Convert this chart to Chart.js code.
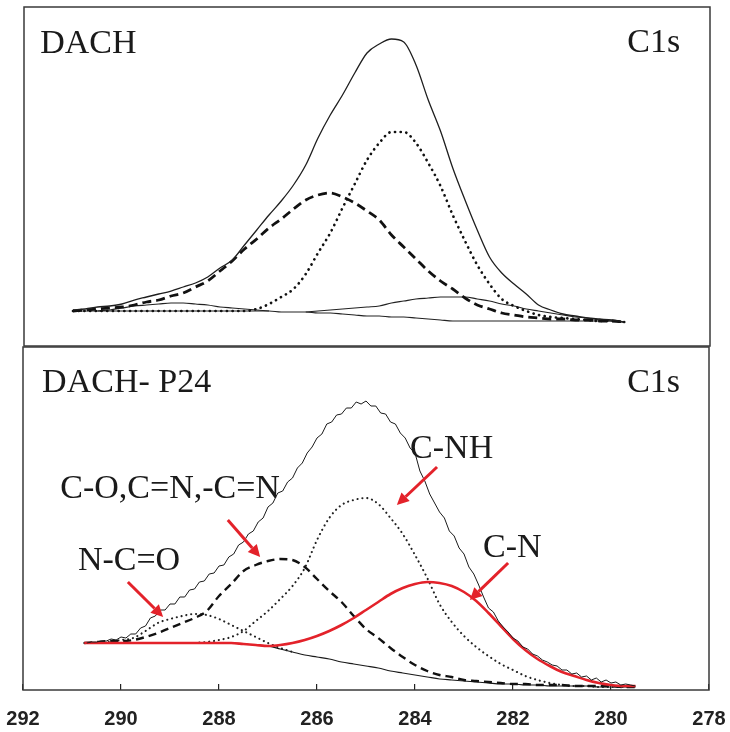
<!DOCTYPE html>
<html>
<head>
<meta charset="utf-8">
<script src="https://cdn.jsdelivr.net/npm/chart.js@4.4.1/dist/chart.umd.min.js"></script>
<style>
  body { margin: 0; background: #fff; }
  #wrap { position: relative; width: 730px; height: 732px; }
  #wrap canvas { position: absolute; left: 0; top: 0; }
</style>
</head>
<body>
<div id="wrap">
  <canvas id="topChart" width="730" height="732"></canvas>
  <canvas id="bottomChart" width="730" height="732"></canvas>
</div>
<script>
// -----------------------------
// DATA  (binding energy in eV, intensity in arbitrary units)
// -----------------------------
const xTicks = [292, 290, 288, 286, 284, 282, 280, 278];

// top panel : DACH
const topEnergy = [291.00, 290.75, 290.50, 290.25, 290.00, 289.75, 289.50, 289.25, 289.00, 288.75,
  288.50, 288.25, 288.00, 287.75, 287.50, 287.25, 287.00, 286.75, 286.50, 286.25,
  286.00, 285.75, 285.50, 285.25, 285.00, 284.75, 284.50, 284.25, 284.00, 283.75,
  283.50, 283.25, 283.00, 282.75, 282.50, 282.25, 282.00, 281.75, 281.50, 281.25,
  281.00, 280.75, 280.50, 280.25, 280.00, 279.75];
const topEnvelope = [35, 36, 38, 39, 41, 45, 48, 51, 54, 58, 62, 68, 77, 85, 100, 115, 130, 144, 160, 180,
  207, 230, 250, 272, 292, 301, 306, 303, 280, 245, 214, 177, 145, 115, 88, 72, 61, 51, 40, 35,
  31, 29, 27, 26, 25, 23];
const topDashed = [34, 35, 36, 37, 38, 40, 43, 45, 49, 52, 58, 64, 74, 84, 96, 106, 117, 126, 136, 145,
  150, 152, 148, 142, 134, 125, 110, 98, 86, 74, 64, 56, 47, 40, 36, 32, 30, 28, 27, 26,
  26, 25, 25, 24, 24, 23];
const topDotted = [34, 34, 34, 34, 34, 34, 34, 34, 34, 34, 34, 34, 34, 34, 34, 36, 41, 48, 56, 71,
  92, 112, 137, 161, 185, 202, 213, 213, 202, 182, 159, 130, 104, 80, 61, 46, 39, 34, 30, 28,
  27, 26, 25, 24, 24, 23];
const topSmallLow = [null, null, 34, 35, 37, 39, 40, 41, 42, 42, 41, 40, 38, 37, 36, 35, 34, null, null, null,
  null, null, null, null, null, null, null, null, null, null, null, null, null, null, null, null, null, null, null, null,
  null, null, null, null, null, null];
const topSmallHigh = [null, null, null, null, null, null, null, null, null, null, null, null, null, null, null, null, null, null, null, 33,
  34, 35, 36, 37, 38, 39, 42, 44, 46, 47, 48, 48, 48, 46, 44, 41, 39, 36, 34, 32,
  30, 28, 27, 25, 24, 23];
const topBackground = [34, 34, 34, 34, 34, 34, 34, 34, 34, 34, 34, 34, 34, 34, 34, 34, 34, 33, 33, 33,
  32, 32, 31, 30, 29, 29, 28, 28, 27, 26, 25, 24, 24, 24, 24, 24, 24, 24, 24, 24,
  24, 24, 24, 24, 24, 23];

// bottom panel : DACH- P24
const bottomEnergy = [290.75, 290.50, 290.25, 290.00, 289.75, 289.50, 289.25, 289.00, 288.75, 288.50,
  288.25, 288.00, 287.75, 287.50, 287.25, 287.00, 286.75, 286.50, 286.25, 286.00,
  285.75, 285.50, 285.25, 285.00, 284.75, 284.50, 284.25, 284.00, 283.75, 283.50,
  283.25, 283.00, 282.75, 282.50, 282.25, 282.00, 281.75, 281.50, 281.25, 281.00,
  280.75, 280.50, 280.25, 280.00, 279.75, 279.50];
const bottomEnergyFine = [290.7, 290.6, 290.5, 290.4, 290.3, 290.2, 290.1, 290.0, 289.9, 289.8,
  289.7, 289.6, 289.5, 289.4, 289.3, 289.2, 289.1, 289.0, 288.9, 288.8,
  288.7, 288.6, 288.5, 288.4, 288.3, 288.2, 288.1, 288.0, 287.9, 287.8,
  287.7, 287.6, 287.5, 287.4, 287.3, 287.2, 287.1, 287.0, 286.9, 286.8,
  286.7, 286.6, 286.5, 286.4, 286.3, 286.2, 286.1, 286.0, 285.9, 285.8,
  285.7, 285.6, 285.5, 285.4, 285.3, 285.2, 285.1, 285.0, 284.9, 284.8,
  284.7, 284.6, 284.5, 284.4, 284.3, 284.2, 284.1, 284.0, 283.9, 283.8,
  283.7, 283.6, 283.5, 283.4, 283.3, 283.2, 283.1, 283.0, 282.9, 282.8,
  282.7, 282.6, 282.5, 282.4, 282.3, 282.2, 282.1, 282.0, 281.9, 281.8,
  281.7, 281.6, 281.5, 281.4, 281.3, 281.2, 281.1, 281.0, 280.9, 280.8,
  280.7, 280.6, 280.5, 280.4, 280.3, 280.2, 280.1, 280.0, 279.9, 279.8,
  279.7, 279.6, 279.5];
const bottomEnvelope = [47, 48, 48, 49, 49, 51, 50, 53, 52, 56,
  56, 62, 64, 72, 74, 80, 80, 86, 86, 93,
  93, 100, 101, 108, 109, 116, 117, 124, 125, 133,
  136, 145, 148, 156, 159, 168, 172, 183, 187, 197,
  199, 208, 212, 222, 227, 237, 243, 252, 256, 266,
  268, 275, 276, 282, 282, 288, 286, 289, 284, 284,
  277, 276, 268, 266, 257, 252, 242, 237, 219, 209,
  196, 187, 178, 172, 159, 154, 142, 136, 123, 116,
  105, 93, 82, 78, 69, 63, 58, 52, 49, 43,
  41, 36, 34, 30, 28, 25, 24, 20, 20, 16,
  17, 13, 14, 10, 12, 8, 10, 7, 8, 5,
  6, 5, 4];
const bottomCN = [47, 47, 47, 47, 47, 47, 47, 47, 47, 47, 47, 47, 47, 46, 45, 44, 45, 47, 50, 54,
  59, 65, 72, 80, 88, 96, 102, 106, 108, 107, 104, 98, 89, 77, 64, 51, 40, 31, 24, 18,
  14, 10, 7, 5, 4, 4];
const bottomCNH = [null, null, null, null, null, null, null, null, null, 47, 48, 50, 53, 59, 69, 79, 91, 104, 122, 150,
  172, 185, 190, 192, 186, 172, 156, 135, 112, 86, 68, 54, 43, 34, 26, 20, 14, 10, 7, 5,
  4, 4, 3, 3, 3, 3];
const bottomCO = [47, 48, 49, 49, 50, 53, 57, 62, 67, 72, 79, 94, 106, 119, 125, 129, 131, 130, 123, 111,
  99, 88, 74, 61, 52, 42, 33, 25, 19, 15, 13, 10, 9, 8, 7, 6, 6, 5, 5, 5,
  4, 4, 4, 4, 3, 3];
const bottomNCO = [47, 47, 48, 50, 52, 59, 67, 71, 74, 76, 75, 71, 65, 59, 53, 47, 42, 38, null, null,
  null, null, null, null, null, null, null, null, null, null, null, null, null, null, null, null, null, null, null, null,
  null, null, null, null, null, null];
const bottomBackground = [47, 47, 47, 47, 47, 47, 47, 47, 47, 47, 47, 47, 47, 46, 45, 44, 41, 38, 35, 33,
  31, 28, 26, 24, 22, 19, 17, 15, 13, 11, 10, 9, 8, 7, 6, 6, 5, 5, 4, 4,
  4, 4, 3, 3, 3, 3];

// labels and arrows, placed at (eV, intensity)
const topLabels = [
  { text: "DACH", x: 291.67, y: 292, align: "left" },
  { text: "C1s", x: 278.61, y: 293, align: "right" }
];
const bottomLabels = [
  { text: "DACH- P24", x: 291.61, y: 298, align: "left" },
  { text: "C1s", x: 278.59, y: 298, align: "right" },
  { text: "C-O,C=N,-C=N", x: 291.24, y: 192, align: "left" },
  { text: "N-C=O", x: 290.88, y: 120, align: "left" },
  { text: "C-NH", x: 284.10, y: 232, align: "left" },
  { text: "C-N", x: 282.61, y: 133, align: "left" }
];
const bottomArrows = [
  { from: [289.86, 108], to: [289.14, 73] },
  { from: [287.82, 170], to: [287.16, 133] },
  { from: [283.55, 223], to: [284.37, 185] },
  { from: [282.10, 127], to: [282.88, 90] }
];

// -----------------------------
// HELPERS
// -----------------------------
const pts = (xs, ys) => xs.map((x, i) => ({ x: x, y: ys[i] }));
const RED = "#e3222a";

const framePlugin = {
  id: "frame",
  beforeDatasetsDraw(chart) {
    const { ctx, chartArea: a } = chart;
    ctx.save();
    ctx.strokeStyle = "#3a3a3a";
    ctx.lineWidth = 1.5;
    ctx.strokeRect(a.left, a.top, a.right - a.left, a.bottom - a.top);
    ctx.restore();
  }
};

function drawArrow(ctx, x1, y1, x2, y2) {
  const ang = Math.atan2(y2 - y1, x2 - x1);
  const head = 12, half = 6;
  const bx = x2 - head * Math.cos(ang), by = y2 - head * Math.sin(ang);
  ctx.beginPath();
  ctx.moveTo(x1, y1);
  ctx.lineTo(bx, by);
  ctx.stroke();
  ctx.beginPath();
  ctx.moveTo(x2, y2);
  ctx.lineTo(bx + half * Math.sin(ang), by - half * Math.cos(ang));
  ctx.lineTo(bx - half * Math.sin(ang), by + half * Math.cos(ang));
  ctx.closePath();
  ctx.fill();
}

function notesPlugin(labels, arrows) {
  return {
    id: "notes",
    afterDraw(chart) {
      const { ctx, scales } = chart;
      ctx.save();
      ctx.font = '34px "Liberation Serif", "Times New Roman", serif';
      ctx.fillStyle = "#1a1a1a";
      ctx.textBaseline = "alphabetic";
      labels.forEach(l => {
        ctx.textAlign = l.align;
        ctx.fillText(l.text, scales.x.getPixelForValue(l.x), scales.y.getPixelForValue(l.y));
      });
      ctx.strokeStyle = RED;
      ctx.fillStyle = RED;
      ctx.lineWidth = 3;
      arrows.forEach(a => {
        drawArrow(ctx,
          scales.x.getPixelForValue(a.from[0]), scales.y.getPixelForValue(a.from[1]),
          scales.x.getPixelForValue(a.to[0]), scales.y.getPixelForValue(a.to[1]));
      });
      ctx.restore();
    }
  };
}

const smooth = { cubicInterpolationMode: "monotone", fill: false };

// -----------------------------
// TOP CHART
// -----------------------------
new Chart(document.getElementById("topChart"), {
  type: "line",
  data: {
    datasets: [
      { data: pts(topEnergy, topEnvelope), borderColor: "#1e1e1e", borderWidth: 1.3, ...smooth },
      { data: pts(topEnergy, topDashed), borderColor: "#111", borderWidth: 2.8, borderDash: [9, 5], ...smooth },
      { data: pts(topEnergy, topDotted), borderColor: "#111", borderWidth: 2.7, borderDash: [0.1, 5.6], borderCapStyle: "round", ...smooth },
      { data: pts(topEnergy, topSmallLow), borderColor: "#222", borderWidth: 1.2, ...smooth },
      { data: pts(topEnergy, topSmallHigh), borderColor: "#222", borderWidth: 1.2, ...smooth },
      { data: pts(topEnergy, topBackground), borderColor: "#222", borderWidth: 1.2, ...smooth }
    ]
  },
  options: {
    responsive: false,
    animation: false,
    events: [],
    layout: { padding: { left: 24, top: 7, right: 20, bottom: 386 } },
    elements: { point: { radius: 0 } },
    plugins: { legend: { display: false }, tooltip: { enabled: false } },
    scales: {
      x: { type: "linear", min: 278, max: 292, reverse: true, display: false },
      y: { min: -1, max: 338, display: false }
    }
  },
  plugins: [framePlugin, notesPlugin(topLabels, [])]
});

// -----------------------------
// BOTTOM CHART
// -----------------------------
new Chart(document.getElementById("bottomChart"), {
  type: "line",
  data: {
    datasets: [
      { data: pts(bottomEnergyFine, bottomEnvelope), borderColor: "#1a1a1a", borderWidth: 1, tension: 0, fill: false },
      { data: pts(bottomEnergy, bottomCN), borderColor: RED, borderWidth: 2.6, ...smooth },
      { data: pts(bottomEnergy, bottomCO), borderColor: "#111", borderWidth: 2.4, borderDash: [8, 5], ...smooth },
      { data: pts(bottomEnergy, bottomCNH), borderColor: "#222", borderWidth: 2.1, borderDash: [0.1, 4.8], borderCapStyle: "round", ...smooth },
      { data: pts(bottomEnergy, bottomNCO), borderColor: "#222", borderWidth: 2.1, borderDash: [0.1, 4.8], borderCapStyle: "round", ...smooth },
      { data: pts(bottomEnergy, bottomBackground), borderColor: "#1a1a1a", borderWidth: 1.2, ...smooth }
    ]
  },
  options: {
    responsive: false,
    animation: false,
    events: [],
    layout: { padding: { left: 23, top: 347, right: 21, bottom: 0 } },
    elements: { point: { radius: 0 } },
    plugins: { legend: { display: false }, tooltip: { enabled: false } },
    scales: {
      x: {
        type: "linear", min: 278, max: 292, reverse: true, position: "bottom",
        afterFit: (axis) => { axis.height = 42; axis.paddingLeft = 0; axis.paddingRight = 0; },
        afterBuildTicks: (axis) => { axis.ticks = xTicks.map(v => ({ value: v })); },
        border: { display: false },
        grid: { display: true, drawOnChartArea: false, drawTicks: true, tickLength: -6, color: "#222", lineWidth: 1.2 },
        ticks: {
          autoSkip: false, maxRotation: 0, padding: 23, color: "#222",
          font: { family: '"Liberation Sans Narrow", "Arial Narrow", "Liberation Sans", sans-serif', size: 20, weight: "bold" }
        }
      },
      y: { min: 0, max: 343, display: false }
    }
  },
  plugins: [framePlugin, notesPlugin(bottomLabels, bottomArrows)]
});
</script>
</body>
</html>
